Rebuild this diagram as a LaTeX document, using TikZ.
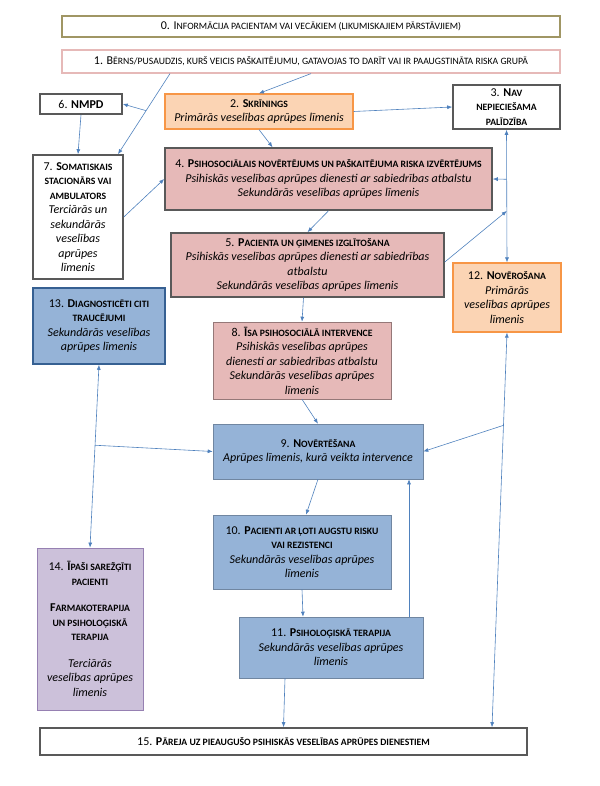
\documentclass[tikz,border=0pt]{standalone}
\usepackage{fontspec}
\setmainfont{Carlito}
\usetikzlibrary{calc,arrows.meta,shadows}

\definecolor{rosefill}{RGB}{230,185,184}
\definecolor{orangefill}{RGB}{251,212,180}
\definecolor{orangeline}{RGB}{247,150,70}
\definecolor{bluefill}{RGB}{149,179,215}
\definecolor{blueline}{RGB}{54,96,146}
\definecolor{lilacfill}{RGB}{204,193,218}
\definecolor{lilacline}{RGB}{150,128,178}
\definecolor{greyline}{RGB}{89,89,89}
\definecolor{tanline}{RGB}{160,150,100}
\definecolor{arrowblue}{RGB}{79,129,189}

\newcommand{\sml}[1]{{\fontsize{9.7}{14.5}\selectfont #1}}
\newcommand{\ttl}[3]{#1 \textbf{#2\sml{#3}}}
\newcommand{\tcont}[1]{\textbf{\sml{#1}}}

\begin{document}
\begin{tikzpicture}[x=1pt,y=-1pt,->,>={Latex[length=5pt,width=4pt]},draw=arrowblue,line width=0.6pt]
    \tikzstyle{box}=[rectangle, align=center, inner sep=1pt, font=\fontsize{12}{14.5}\selectfont,
        drop shadow={shadow xshift=1.2pt,shadow yshift=-1.2pt,opacity=0.3}]
    \tikzstyle{white box}=[box, draw=greyline, fill=white, line width=1.6pt]
    \tikzstyle{rose box}=[box, draw=greyline, fill=rosefill, line width=1.6pt]
    \tikzstyle{orange box}=[box, draw=orangeline, fill=orangefill, line width=1.2pt]
    \tikzstyle{blue box}=[box, draw=bluefill!75!black, fill=bluefill, line width=0.6pt]
    \tikzstyle{lilac box}=[box, draw=lilacline, fill=lilacfill, line width=0.8pt]

    \useasboundingbox (0,0) rectangle (599,786);

    % Draw the two header boxes
    \node[white box, draw=tanline, line width=1.2pt, minimum width=498, minimum height=21] (b0) at (311,26.5)
        {0. I\sml{NFORMĀCIJA PACIENTAM VAI VECĀKIEM (LIKUMISKAJIEM PĀRSTĀVJIEM)}};
    \node[white box, draw=rosefill, line width=1.2pt, minimum width=498, minimum height=23] (b1) at (311,61.5)
        {1. B\sml{ĒRNS/PUSAUDZIS, KURŠ VEICIS PAŠKAITĒJUMU, GATAVOJAS TO DARĪT VAI IR PAAUGSTINĀTA RISKA GRUPĀ}};

    % Draw the upper row
    \node[white box, minimum width=82, minimum height=20] (b6) at (81,104) {6. \textbf{NMPD}};
    \node[orange box, minimum width=188, minimum height=35] (b2) at (259,111.5)
        {\ttl{2.}{S}{KRĪNINGS}\\ \textit{Primārās veselības aprūpes līmenis}};
    \node[white box, minimum width=107, minimum height=44] (b3) at (506.5,107)
        {\ttl{3.}{N}{AV}\\ \tcont{NEPIECIEŠAMA}\\ \tcont{PALĪDZĪBA}};

    % Draw the assessment and education boxes
    \node[white box, minimum width=90, minimum height=124] (b7) at (78,217)
        {\ttl{7.}{S}{OMATISKAIS}\\ \tcont{STACIONĀRS VAI}\\ \tcont{AMBULATORS}\\
         \textit{Terciārās un}\\ \textit{sekundārās}\\ \textit{veselības}\\ \textit{aprūpes}\\ \textit{līmenis}};
    \node[rose box, minimum width=327, minimum height=62] (b4) at (328.5,179)
        {\ttl{4.}{P}{SIHOSOCIĀLAIS NOVĒRTĒJUMS UN PAŠKAITĒJUMA RISKA IZVĒRTĒJUMS}\\
         \textit{Psihiskās veselības aprūpes dienesti ar sabiedrības atbalstu}\\
         \textit{Sekundārās veselības aprūpes līmenis}};
    \node[rose box, minimum width=273, minimum height=64] (b5) at (307.5,265)
        {\ttl{5.}{P}{ACIENTA UN ĢIMENES IZGLĪTOŠANA}\\
         \textit{Psihiskās veselības aprūpes dienesti ar sabiedrības}\\ \textit{atbalstu}\\
         \textit{Sekundārās veselības aprūpes līmenis}};
    \node[orange box, minimum width=108, minimum height=69] (b12) at (507,297.5)
        {\ttl{12.}{N}{OVĒROŠANA}\\ \textit{Primārās}\\ \textit{veselības aprūpes}\\ \textit{līmenis}};

    % Draw the intervention boxes
    \node[blue box, draw=blueline, line width=1.6pt, minimum width=132, minimum height=76] (b13) at (99,326)
        {\ttl{13.}{D}{IAGNOSTICĒTI CITI}\\ \tcont{TRAUCĒJUMI}\\
         \textit{Sekundārās veselības}\\ \textit{aprūpes līmenis}};
    \node[rose box, draw=rosefill!65!black, line width=0.6pt, minimum width=178, minimum height=77] (b8) at (302,360.5)
        {\ttl{8.}{Ī}{SA PSIHOSOCIĀLĀ INTERVENCE}\\ \textit{Psihiskās veselības aprūpes}\\
         \textit{dienesti ar sabiedrības atbalstu}\\ \textit{Sekundārās veselības aprūpes}\\ \textit{līmenis}};
    \node[blue box, minimum width=210, minimum height=55] (b9) at (318,451.5)
        {\ttl{9.}{N}{OVĒRTĒŠANA}\\ \textit{Aprūpes līmenis, kurā veikta intervence}};
    \node[blue box, minimum width=178, minimum height=74] (b10) at (302,552)
        {\ttl{10.}{P}{ACIENTI AR ĻOTI AUGSTU RISKU}\\ \tcont{VAI REZISTENCI}\\
         \textit{Sekundārās veselības aprūpes}\\ \textit{līmenis}};
    \node[blue box, minimum width=184, minimum height=61] (b11) at (331,647.5)
        {\ttl{11.}{P}{SIHOLOĢISKĀ TERAPIJA}\\ \textit{Sekundārās veselības aprūpes}\\ \textit{līmenis}};
    \node[lilac box, minimum width=106, minimum height=162] (b14) at (90,629)
        {\ttl{14.}{Ī}{PAŠI SAREŽĢĪTI}\\ \tcont{PACIENTI}\\[12pt]
         \textbf{F\sml{ARMAKOTERAPIJA}}\\ \tcont{UN PSIHOLOĢISKĀ}\\ \tcont{TERAPIJA}\\[12pt]
         \textit{Terciārās}\\ \textit{veselības aprūpes}\\ \textit{līmenis}};

    % Draw the bottom box
    \node[white box, minimum width=487, minimum height=27] (b15) at (283.5,741.5)
        {\ttl{15.}{P}{ĀREJA UZ PIEAUGUŠO PSIHISKĀS VESELĪBAS APRŪPES DIENESTIEM}};

    % Connect box 1 with box 7, branching off to box 6
    \coordinate (s1) at ([xshift=-141pt]b1.south);
    \coordinate (e7) at ([xshift=40pt]b7.north);
    \coordinate (j1) at ($(s1)!0.46!(e7)$);
    \draw (s1) -- (e7);
    \draw (j1) -- (b6.east);

    % Plain one-way links
    \foreach \from/\to in {b1.south/b2.north, b6.south/b7.north, b2.east/b3.west,
                           b7.east/b4.west, b4.south/b5.north, b8.south/b9.north}
        \draw (\from) -- (\to);
    \draw (b2.south) -- ([xshift=-56pt]b4.north);
    \draw ([xshift=-4pt]b5.south) -- (b8.north);
    \draw (b9.south) -- ([xshift=4pt]b10.north);
    \draw (b10.south) -- ([xshift=-28pt]b11.north);
    \draw ([xshift=-46pt]b11.south) -- (b15.north);
    \draw ([xshift=78pt]b11.north) -- ([xshift=91pt]b9.south);

    % Two-way links with their side branches
    \draw[<->] (b3.south) -- (b12.north);
    \coordinate (j2) at ($(b3.south)!0.373!(b12.north)$);
    \coordinate (j3) at ($(b3.south)!0.612!(b12.north)$);
    \draw (j2) -- (b4.east);
    \draw ([yshift=3pt]b5.east) -- (j3);

    \draw[<->] (b13.south) -- (b14.north);
    \coordinate (j4) at ($(b13.south)!0.44!(b14.north)$);
    \draw (j4) -- (b9.west);

    \coordinate (e15) at ([xshift=208.5pt]b15.north);
    \draw[<->] (b12.south) -- (e15);
    \coordinate (j5) at ($(b12.south)!0.235!(e15)$);
    \draw (j5) -- (b9.east);
\end{tikzpicture}
\end{document}
